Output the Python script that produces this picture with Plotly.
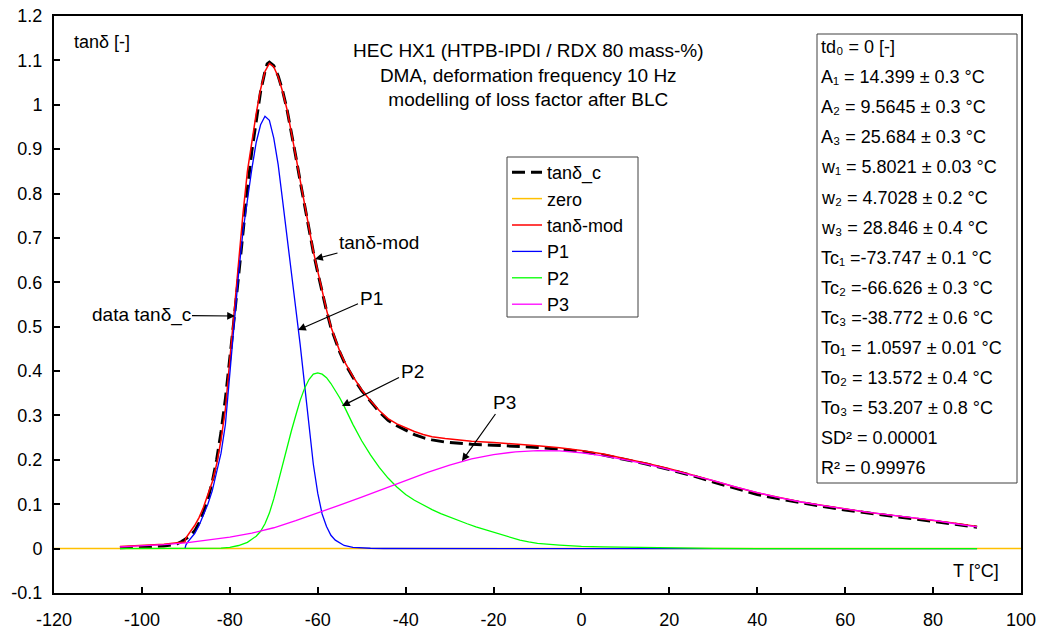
import plotly.graph_objects as go

# ---------------- data ----------------
# measured loss factor tan(delta)_c
T_data = [-105, -102, -100, -97, -95, -93, -92, -91, -90, -89, -88, -87, -86, -85, -84, -83,
          -82, -81, -80, -79, -78, -77, -76, -75, -74, -73, -72, -71.5, -71, -70, -69, -68,
          -67, -66, -65, -64, -63, -62, -61, -60, -59, -58, -57, -56, -55, -54, -53, -52,
          -50, -48, -46, -44, -42, -40, -38, -36, -34, -31, -28, -25, -20, -15, -10, -5,
          0, 5, 10, 15, 20, 25, 30, 35, 40, 45, 50, 55, 60, 65, 70, 75, 80, 85, 90]
tan_c = [0.002, 0.003, 0.003, 0.005, 0.006, 0.009, 0.011, 0.016, 0.022, 0.030, 0.040, 0.058,
         0.082, 0.112, 0.150, 0.200, 0.262, 0.338, 0.425, 0.520, 0.615, 0.715, 0.810, 0.895,
         0.965, 1.030, 1.075, 1.092, 1.096, 1.088, 1.065, 1.032, 0.990, 0.940, 0.884, 0.828,
         0.772, 0.718, 0.668, 0.622, 0.578, 0.536, 0.498, 0.468, 0.443, 0.421, 0.402, 0.386,
         0.356, 0.331, 0.308, 0.289, 0.277, 0.267, 0.257, 0.250, 0.245, 0.240, 0.237, 0.235,
         0.233, 0.231, 0.228, 0.224, 0.219, 0.211, 0.201, 0.190, 0.178, 0.165, 0.150, 0.136,
         0.122, 0.112, 0.103, 0.095, 0.087, 0.080, 0.074, 0.068, 0.062, 0.055, 0.048]

# zero line
T_zero = [-120, 100]
zero = [0, 0]

# fitted model tan(delta)-mod
T_mod = [-105, -100, -95, -92, -90.2, -90, -89.5, -89, -88, -87, -86, -85, -84, -83, -82, -81,
         -80, -79, -78, -77, -76, -75, -74, -73, -72, -71, -70, -69, -68, -67, -66, -65, -64,
         -63, -62, -61, -60, -59, -58, -57, -56, -55, -54, -53, -52, -50, -48, -46, -44, -42,
         -40, -38, -36, -34, -31, -28, -25, -20, -15, -10, -5, 0, 5, 10, 15, 20, 25, 30, 35,
         40, 45, 50, 55, 60, 65, 70, 75, 80, 85, 90]
tan_mod = [0.005, 0.007, 0.010, 0.013, 0.015, 0.024, 0.032, 0.038, 0.052, 0.070, 0.093, 0.120,
           0.150, 0.190, 0.245, 0.315, 0.428, 0.548, 0.652, 0.755, 0.850, 0.918, 0.980, 1.035,
           1.075, 1.093, 1.085, 1.063, 1.030, 0.990, 0.940, 0.885, 0.830, 0.775, 0.720, 0.670,
           0.625, 0.580, 0.538, 0.500, 0.470, 0.445, 0.423, 0.404, 0.388, 0.358, 0.333, 0.311,
           0.293, 0.281, 0.272, 0.264, 0.257, 0.252, 0.248, 0.245, 0.242, 0.239, 0.236, 0.232,
           0.227, 0.221, 0.213, 0.203, 0.192, 0.180, 0.167, 0.153, 0.139, 0.126, 0.115, 0.105,
           0.097, 0.089, 0.082, 0.076, 0.070, 0.064, 0.057, 0.050]

# peak 1
T_p1 = [-90.2, -90, -89.5, -89, -88, -87, -86, -85, -84, -83, -82, -81, -80, -79, -78, -77,
        -76, -75, -74, -73, -72, -71, -70, -69, -68, -67, -66, -65, -64, -63, -62, -61, -60,
        -59, -58, -57, -56, -55, -54, -52, -50, -48, -45, -40, -30, 0, 30, 60, 90]
p1 = [0.000, 0.008, 0.016, 0.022, 0.034, 0.052, 0.075, 0.100, 0.130, 0.170, 0.215, 0.280,
      0.400, 0.520, 0.620, 0.715, 0.790, 0.855, 0.915, 0.955, 0.974, 0.965, 0.925, 0.865,
      0.785, 0.705, 0.630, 0.550, 0.460, 0.370, 0.280, 0.190, 0.125, 0.078, 0.050, 0.030,
      0.019, 0.012, 0.007, 0.003, 0.0015, 0.0008, 0.0003, 0.0001, 0.0, 0.0, 0.0, 0.0, 0.0]

# peak 2
T_p2 = [-105, -95, -88, -84, -82, -80, -78, -76, -74, -73, -72, -71, -70, -69, -68, -67, -66,
        -65, -64, -63, -62, -61, -60, -59, -58, -57, -56, -55, -54, -53, -52, -50, -48, -46,
        -44, -42, -40, -38, -36, -34, -32, -30, -28, -26, -24, -22, -20, -18, -16, -14, -12,
        -10, -5, 0, 5, 10, 15, 20, 30, 40, 50, 90]
p2 = [0.0, 0.0, 0.0, 0.0005, 0.001, 0.003, 0.007, 0.014, 0.028, 0.039, 0.056, 0.080, 0.112,
      0.150, 0.190, 0.228, 0.265, 0.300, 0.334, 0.361, 0.381, 0.393, 0.396, 0.393, 0.385,
      0.372, 0.357, 0.340, 0.321, 0.300, 0.280, 0.243, 0.211, 0.183, 0.159, 0.139, 0.122,
      0.109, 0.098, 0.088, 0.079, 0.071, 0.063, 0.056, 0.049, 0.043, 0.037, 0.031, 0.025,
      0.019, 0.015, 0.012, 0.008, 0.005, 0.004, 0.003, 0.002, 0.001, 0.0005, 0.0002, 0.0, 0.0]

# peak 3
T_p3 = [-105, -100, -95, -90, -85, -80, -75, -70, -65, -60, -55, -50, -45, -40, -35, -30, -25,
        -20, -15, -10, -5, 0, 5, 10, 15, 20, 25, 30, 35, 40, 45, 50, 55, 60, 65, 70, 75, 80,
        85, 90]
p3 = [0.004, 0.006, 0.009, 0.013, 0.019, 0.026, 0.035, 0.047, 0.063, 0.080, 0.098, 0.116,
      0.135, 0.154, 0.172, 0.188, 0.202, 0.212, 0.218, 0.221, 0.220, 0.216, 0.209, 0.200,
      0.190, 0.178, 0.166, 0.153, 0.139, 0.126, 0.115, 0.105, 0.097, 0.089, 0.082, 0.076,
      0.070, 0.064, 0.056, 0.049]

x_ticks = [-120, -100, -80, -60, -40, -20, 0, 20, 40, 60, 80, 100]
x_labels = ["-120", "-100", "-80", "-60", "-40", "-20", "0", "20", "40", "60", "80", "100"]
y_ticks = [-0.1, 0, 0.1, 0.2, 0.3, 0.4, 0.5, 0.6, 0.7, 0.8, 0.9, 1.0, 1.1, 1.2]
y_labels = ["-0.1", "0", "0.1", "0.2", "0.3", "0.4", "0.5", "0.6", "0.7", "0.8", "0.9", "1",
            "1.1", "1.2"]

fit_lines = ["td₀ = 0 [-]",
             "A₁ = 14.399 ± 0.3 °C",
             "A₂ = 9.5645 ± 0.3 °C",
             "A₃ = 25.684 ± 0.3 °C",
             "w₁ = 5.8021 ± 0.03 °C",
             "w₂ = 4.7028 ± 0.2 °C",
             "w₃ = 28.846 ± 0.4 °C",
             "Tc₁ =-73.747 ± 0.1 °C",
             "Tc₂ =-66.626 ± 0.3 °C",
             "Tc₃ =-38.772 ± 0.6 °C",
             "To₁ = 1.0597 ± 0.01 °C",
             "To₂ = 13.572 ± 0.4 °C",
             "To₃ = 53.207 ± 0.8 °C",
             "SD² = 0.00001",
             "R² = 0.99976"]

# ---------------- layout geometry ----------------
W, H = 1054, 635
ML, MR, MT, MB = 54, 33, 16, 42
PW, PH = W - ML - MR, H - MT - MB
XR = [-120, 100]
YR = [-0.1, 1.2]
FONT = "Arial, Liberation Sans, sans-serif"
FS = 18


def pxp(x):
    return (x - ML) / PW


def pyp(y):
    return (H - MB - y) / PH


def dx(x):
    return XR[0] + (x - ML) / PW * (XR[1] - XR[0])


def dy(y):
    return YR[0] + (H - MB - y) / PH * (YR[1] - YR[0])


fig = go.Figure()
fig.add_trace(go.Scatter(x=T_data, y=tan_c, mode="lines", name="tanδ_c",
                         line=dict(color="black", width=3, dash="13px,6px")))
fig.add_trace(go.Scatter(x=T_zero, y=zero, mode="lines", name="zero",
                         line=dict(color="#FFC000", width=1.5)))
fig.add_trace(go.Scatter(x=T_mod, y=tan_mod, mode="lines", name="tanδ-mod",
                         line=dict(color="#FF0000", width=1.5)))
fig.add_trace(go.Scatter(x=T_p1, y=p1, mode="lines", name="P1",
                         line=dict(color="#0000FF", width=1.3)))
fig.add_trace(go.Scatter(x=T_p2, y=p2, mode="lines", name="P2",
                         line=dict(color="#00FF00", width=1.3)))
fig.add_trace(go.Scatter(x=T_p3, y=p3, mode="lines", name="P3",
                         line=dict(color="#FF00FF", width=1.3)))

annotations = []
# chart heading
annotations.append(dict(xref="paper", yref="paper", x=pxp(528), y=pyp(75),
                        text="HEC HX1 (HTPB-IPDI / RDX 80 mass-%)<br>DMA, deformation frequency 10 Hz"
                             "<br>modelling of loss factor after BLC",
                        showarrow=False, xanchor="center", yanchor="middle",
                        font=dict(size=19, color="black")))
# axis captions inside the frame
annotations.append(dict(xref="paper", yref="paper", x=pxp(72), y=pyp(42), text="tanδ [-]",
                        showarrow=False, xanchor="left", yanchor="middle",
                        font=dict(size=FS, color="black")))
annotations.append(dict(xref="paper", yref="paper", x=pxp(1001), y=pyp(571), text="T [°C]",
                        showarrow=False, xanchor="right", yanchor="middle",
                        font=dict(size=FS, color="black")))

# fit-parameter box
for i, line in enumerate(fit_lines):
    annotations.append(dict(xref="paper", yref="paper", x=pxp(819), y=pyp(47 + i * 30.1),
                            text=line, showarrow=False, xanchor="left", yanchor="middle",
                            font=dict(size=FS, color="black")))

# callout labels with arrows: (label, text centre px, arrow head px)
callouts = [
    ("tanδ-mod", (379, 242), (315, 259)),
    ("P1", (371, 298), (298, 330)),
    ("P2", (412, 371), (342, 406)),
    ("P3", (504, 402), (462, 461)),
    ("data tanδ_c", (141, 315), (235, 316)),
]
for label, (tx, ty), (hx, hy) in callouts:
    annotations.append(dict(xref="x", yref="y", axref="x", ayref="y",
                            x=dx(hx), y=dy(hy), ax=dx(tx), ay=dy(ty),
                            text=label, showarrow=True, arrowhead=2, arrowsize=1.3,
                            arrowwidth=1.2, arrowcolor="black", standoff=0,
                            font=dict(size=19, color="black")))

shapes = [
    # fit-parameter frame
    dict(type="rect", xref="paper", yref="paper", x0=pxp(817), x1=pxp(1017),
         y0=pyp(483), y1=pyp(34), line=dict(color="#404040", width=1),
         fillcolor="white", layer="below"),
    # legend frame
    dict(type="rect", xref="paper", yref="paper", x0=pxp(507), x1=pxp(638),
         y0=pyp(317), y1=pyp(157), line=dict(color="#404040", width=1),
         fillcolor="white", layer="below"),
]

fig.update_layout(
    width=W, height=H,
    margin=dict(l=ML, r=MR, t=MT, b=MB, pad=0, autoexpand=False),
    paper_bgcolor="white", plot_bgcolor="white",
    font=dict(family=FONT, size=FS, color="black"),
    showlegend=True,
    legend=dict(x=pxp(507), y=pyp(154), xanchor="left", yanchor="top",
                bgcolor="rgba(0,0,0,0)", borderwidth=0,
                font=dict(size=FS, color="black"), tracegroupgap=0),
    annotations=annotations,
    shapes=shapes,
    xaxis=dict(range=XR, tickvals=x_ticks, ticktext=x_labels, ticks="inside", ticklen=6,
               tickwidth=1.5, tickcolor="black", showline=True, linecolor="black", linewidth=2,
               mirror=True, showgrid=False, zeroline=False, ticklabelstandoff=9,
               automargin=False, tickfont=dict(size=FS, color="black")),
    yaxis=dict(range=YR, tickvals=y_ticks, ticktext=y_labels, ticks="inside", ticklen=6,
               tickwidth=1.5, tickcolor="black", showline=True, linecolor="black", linewidth=2,
               mirror=True, showgrid=False, zeroline=False, ticklabelstandoff=6,
               automargin=False, tickfont=dict(size=FS, color="black")),
)

fig.write_html("out.html")
